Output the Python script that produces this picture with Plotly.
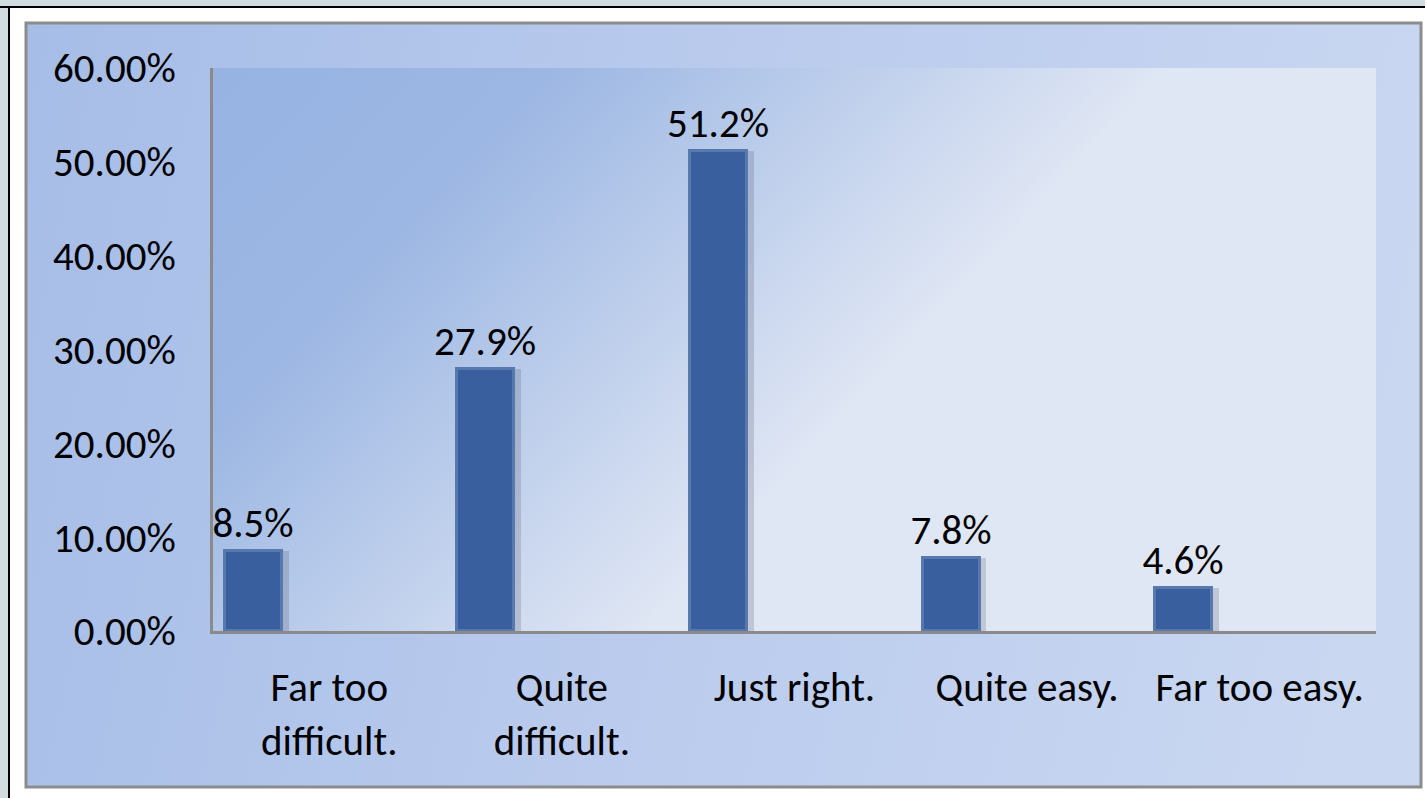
import base64
import plotly.graph_objects as go

# ── Data ──────────────────────────────────────────────────────────────────────

categories = ["Far too<br>difficult.", "Quite<br>difficult.", "Just right.",
              "Quite easy.", "Far too easy."]
shares = [8.5, 27.9, 51.2, 7.8, 4.6]
y_ticks = [0, 10, 20, 30, 40, 50, 60]

# ── Geometry (pixels) ─────────────────────────────────────────────────────────

W, H = 1425, 798
L, R, T, B = 213, 1376, 68, 631
FONT = "Calibri, Carlito, Lato, sans-serif"
FS = 41


def px_x(x):
    return (x - L) / (R - L)


def px_y(y):
    return (B - y) / (B - T)


def svg_gradient(w, h, stops, x2, y2):
    # gradient in pixel space so the colour bands keep their real angle
    parts = "".join(f'<stop offset="{o}" stop-color="{c}"/>' for o, c in stops)
    svg = (
        f'<svg xmlns="http://www.w3.org/2000/svg" width="{w}" height="{h}" '
        f'preserveAspectRatio="none" viewBox="0 0 {w} {h}">'
        f'<defs><linearGradient id="g" gradientUnits="userSpaceOnUse" '
        f'x1="0" y1="0" x2="{x2}" y2="{y2}">{parts}</linearGradient></defs>'
        f'<rect width="{w}" height="{h}" fill="url(#g)"/></svg>'
    )
    return "data:image/svg+xml;base64," + base64.b64encode(svg.encode()).decode()


chart_bg = svg_gradient(1395, 764, [(0, "#a6bde7"), (0.5, "#bacbed"), (1, "#c9d7f1")], 1395, 300)
plot_bg = svg_gradient(R - L, B - T, [(0, "#97b3e2"), (0.3, "#9cb7e3"), (0.85, "#dfe6f4"), (1, "#e0e7f4")], 600, 560)

fig = go.Figure()

# soft shadow to the right of each bar
fig.add_trace(go.Bar(
    x=categories, y=shares,
    width=0.245, offset=-0.42,
    marker=dict(color="rgba(80,80,100,0.22)", line=dict(width=0)),
    hoverinfo="skip", showlegend=False,
))

fig.add_trace(go.Bar(
    x=categories, y=shares,
    width=0.245, offset=-0.449,
    marker=dict(color="#3a5f9e", line=dict(color="#5879ae", width=3)),
    text=[f"{v}%" for v in shares],
    textposition="outside",
    constraintext="none",
    textfont=dict(family=FONT, size=FS, color="#000000"),
    cliponaxis=False,
    showlegend=False,
))

fig.update_layout(
    width=W, height=H,
    margin=dict(l=L, r=W - R, t=T, b=H - B, pad=0),
    paper_bgcolor="#ffffff",
    plot_bgcolor="rgba(0,0,0,0)",
    font=dict(family=FONT, size=FS, color="#000000"),
    barmode="overlay",
    bargap=0,
    xaxis=dict(
        showgrid=False, zeroline=False,
        showline=True, linecolor="#8a8a8a", linewidth=3,
        ticks="", ticklabelstandoff=18,
        tickfont=dict(family=FONT, size=FS),
    ),
    yaxis=dict(
        range=[0, 60], tickvals=y_ticks,
        ticktext=[f"{v:.2f}%" for v in y_ticks],
        showgrid=False, zeroline=False,
        showline=True, linecolor="#8a8a8a", linewidth=3,
        ticks="", ticklabelstandoff=26,
        tickfont=dict(family=FONT, size=FS),
    ),
    images=[
        dict(source=chart_bg, xref="paper", yref="paper",
             x=px_x(26), y=px_y(23), sizex=(1421 - 26) / (R - L), sizey=(787 - 23) / (B - T),
             xanchor="left", yanchor="top", sizing="stretch", layer="below"),
        dict(source=plot_bg, xref="paper", yref="paper",
             x=0, y=1, sizex=1, sizey=1,
             xanchor="left", yanchor="top", sizing="stretch", layer="below"),
    ],
    shapes=[
        # outer strip and black border of the picture
        dict(type="rect", xref="paper", yref="paper", layer="below",
             x0=px_x(0), x1=px_x(W), y0=px_y(0), y1=px_y(6),
             fillcolor="#d1dce1", line=dict(width=0)),
        dict(type="rect", xref="paper", yref="paper", layer="below",
             x0=px_x(0), x1=px_x(8), y0=px_y(0), y1=px_y(H),
             fillcolor="#d1dce1", line=dict(width=0)),
        dict(type="line", xref="paper", yref="paper",
             x0=px_x(0), x1=px_x(W), y0=px_y(7), y1=px_y(7),
             line=dict(color="#000000", width=2)),
        dict(type="line", xref="paper", yref="paper",
             x0=px_x(9), x1=px_x(9), y0=px_y(7), y1=px_y(H),
             line=dict(color="#000000", width=2)),
        # chart area frame
        dict(type="rect", xref="paper", yref="paper",
             x0=px_x(26), x1=px_x(1421), y0=px_y(787), y1=px_y(23),
             line=dict(color="#8c8c8c", width=3)),
    ],
)

fig.write_html("out.html", config={"displayModeBar": False},
               post_script="document.body.style.margin='0';")
